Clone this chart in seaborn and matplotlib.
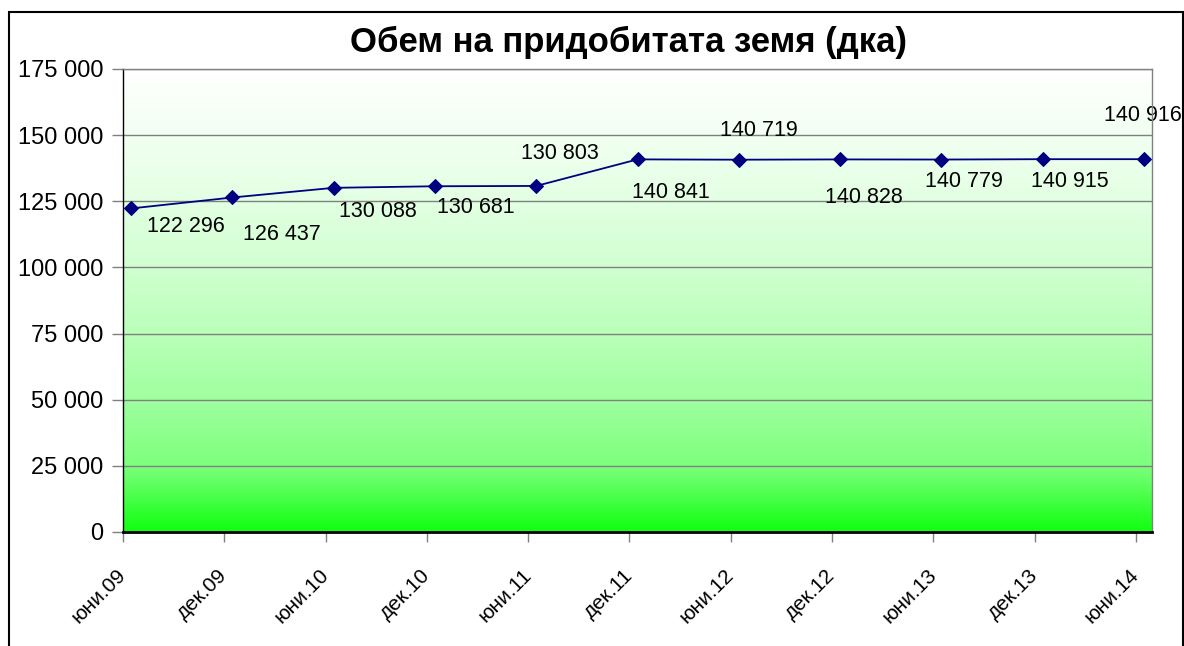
import numpy as np
import pandas as pd
import matplotlib
matplotlib.use("Agg")
import matplotlib.pyplot as plt
import seaborn as sns
from matplotlib.colors import LinearSegmentedColormap
from matplotlib.ticker import FuncFormatter, MultipleLocator
from matplotlib.patches import Rectangle

# ---- data ----
periods = ["юни.09", "дек.09", "юни.10", "дек.10", "юни.11", "дек.11",
           "юни.12", "дек.12", "юни.13", "дек.13", "юни.14"]
values = [122296, 126437, 130088, 130681, 130803, 140841,
          140719, 140828, 140779, 140915, 140916]
title = "Обем на придобитата земя (дка)"

# label placement offsets (pixels, right / down) as in the original
label_dx = [55, 49, 44, 41, 24, 33, 20, 24, 22, 27, -1]
label_dy = [18, 37, 24, 21, -32, 33, -29, 38, 22, 22, -44]

sns.set_theme(style="white")
plt.rcParams["font.family"] = ["Liberation Sans", "DejaVu Sans"]

W, H = 1184, 646
fig = plt.figure(figsize=(W / 100, H / 100), dpi=100)
fig.patch.set_facecolor("white")
ax = fig.add_axes([123 / W, 1 - 532 / H, (1152 - 123) / W, (532 - 69) / H])

point_shift = 0.08
x_max = 10.158
df = pd.DataFrame({"pos": np.arange(len(periods)) + point_shift, "value": values})

# gradient background (white -> green)
stops = [(0.0, "#ffffff"), (0.14, "#f2fff2"), (0.29, "#e2ffe2"), (0.43, "#d0ffd0"),
         (0.57, "#baffba"), (0.71, "#a0ffa0"), (0.86, "#7cff7c"), (1.0, "#10ff10")]
cmap = LinearSegmentedColormap.from_list("grad", stops)
grad = np.linspace(0, 1, 512).reshape(-1, 1)
ax.imshow(grad, cmap=cmap, aspect="auto", extent=[0, x_max, 0, 175000],
          origin="upper", zorder=0, interpolation="bilinear")

ax.set_xlim(0, x_max)
ax.set_ylim(0, 175000)
ax.yaxis.set_major_locator(MultipleLocator(25000))
ax.yaxis.set_major_formatter(FuncFormatter(lambda v, p: f"{int(v):,}".replace(",", " ")))
ax.yaxis.grid(True, color="#808080", linewidth=1.0, zorder=1)
ax.xaxis.grid(False)

sns.lineplot(data=df, x="pos", y="value", ax=ax, color="#000080", linewidth=1.3,
             marker="D", markersize=7.5, markeredgecolor="#000080",
             markerfacecolor="#000080", zorder=3)

for x, v, dx, dy in zip(df["pos"], values, label_dx, label_dy):
    ax.annotate(f"{v:,}".replace(",", " "), (x, v), xytext=(dx, -dy),
                textcoords="offset pixels", ha="center", va="center",
                fontsize=15.5, color="black", annotation_clip=False, zorder=4)

ax.set_xticks(np.arange(len(periods)))
ax.set_xticklabels(periods, rotation=45, ha="right", va="center",
                   rotation_mode="anchor", fontsize=15)
ax.set_xlabel("")
ax.set_ylabel("")
ax.tick_params(axis="y", left=True, length=8, width=1, color="#808080",
               labelsize=17, pad=6, labelcolor="black")
ax.tick_params(axis="x", bottom=True, length=7, width=1, color="#808080",
               pad=22, labelcolor="black")

for side in ["top", "right"]:
    ax.spines[side].set_color("#808080")
    ax.spines[side].set_linewidth(1.0)
ax.spines["left"].set_color("black")
ax.spines["left"].set_linewidth(1.0)
ax.spines["bottom"].set_color("black")
ax.spines["bottom"].set_linewidth(2.0)
for s in ax.spines.values():
    s.set_zorder(5)

ax.text(0.491, 1.058, title, transform=ax.transAxes, ha="center", va="center",
        fontsize=25, fontweight="bold", color="black")

fig.patches.append(Rectangle((9 / W, -0.1), (1183 - 9) / W, 0.1 + 1 - 12 / H,
                             transform=fig.transFigure, fill=False,
                             edgecolor="black", linewidth=1.5))

fig.savefig("out.png", dpi=100)
